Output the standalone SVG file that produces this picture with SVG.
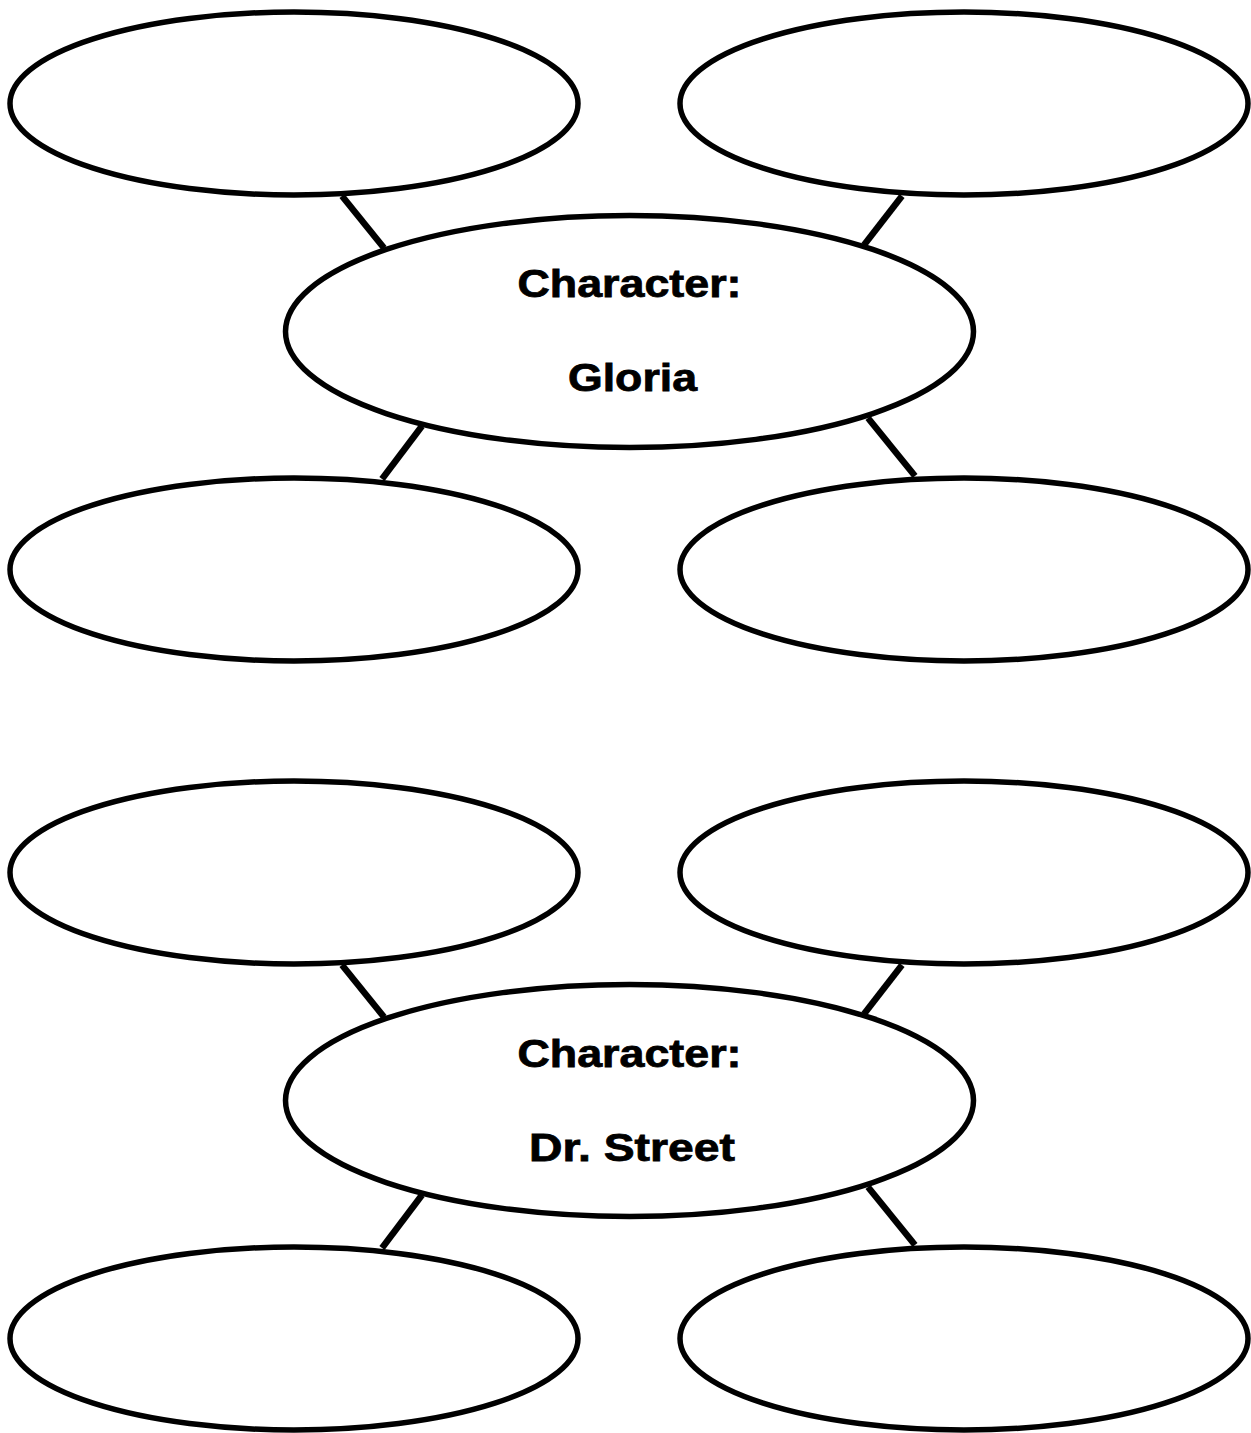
<svg xmlns="http://www.w3.org/2000/svg" width="1251" height="1433" viewBox="0 0 1251 1433">
<style>
.e{fill:#fff;stroke:#000;stroke-width:5.5}
.c{stroke:#000;stroke-width:6.5;stroke-linecap:butt}
.t{font-family:"Liberation Sans",Arial,sans-serif;font-weight:bold;font-size:39px;fill:#000;stroke:#000;stroke-width:0.8;text-anchor:middle}
</style>
<rect width="1251" height="1433" fill="#fff"/>
<g id="connectors">
<line class="c" x1="342" y1="196" x2="384" y2="248"/>
<line class="c" x1="902" y1="196" x2="864" y2="245"/>
<line class="c" x1="422" y1="426" x2="382" y2="479"/>
<line class="c" x1="868" y1="418" x2="915" y2="476"/>
<line class="c" x1="342" y1="965" x2="384" y2="1017"/>
<line class="c" x1="902" y1="965" x2="864" y2="1014"/>
<line class="c" x1="422" y1="1195" x2="382" y2="1248"/>
<line class="c" x1="868" y1="1187" x2="915" y2="1245"/>
</g>
<g id="g1-tl"><ellipse class="e" cx="294" cy="103.5" rx="284" ry="91.5"/></g>
<g id="g1-tr"><ellipse class="e" cx="964" cy="103.5" rx="284" ry="91.5"/></g>
<g id="g1-center"><ellipse class="e" cx="629.5" cy="331.5" rx="344" ry="116"/>
<text class="t" x="629.5" y="297" textLength="224" lengthAdjust="spacingAndGlyphs">Character:</text>
<text class="t" x="632.5" y="391" textLength="129" lengthAdjust="spacingAndGlyphs">Gloria</text></g>
<g id="g1-bl"><ellipse class="e" cx="294" cy="569.5" rx="284" ry="91.5"/></g>
<g id="g1-br"><ellipse class="e" cx="964" cy="569.5" rx="284" ry="91.5"/></g>
<g id="g2-tl"><ellipse class="e" cx="294" cy="872.5" rx="284" ry="91.5"/></g>
<g id="g2-tr"><ellipse class="e" cx="964" cy="872.5" rx="284" ry="91.5"/></g>
<g id="g2-center"><ellipse class="e" cx="629.5" cy="1100.5" rx="344" ry="116"/>
<text class="t" x="629.5" y="1067" textLength="224" lengthAdjust="spacingAndGlyphs">Character:</text>
<text class="t" x="632" y="1161" textLength="206" lengthAdjust="spacingAndGlyphs">Dr. Street</text></g>
<g id="g2-bl"><ellipse class="e" cx="294" cy="1338.5" rx="284" ry="91.5"/></g>
<g id="g2-br"><ellipse class="e" cx="964" cy="1338.5" rx="284" ry="91.5"/></g>
</svg>
